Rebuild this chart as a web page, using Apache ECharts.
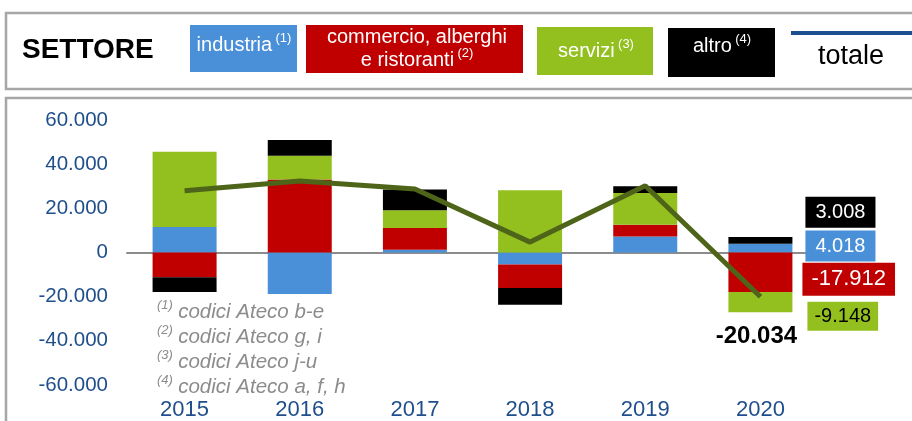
<!DOCTYPE html>
<html>
<head>
<meta charset="utf-8">
<script src="https://cdn.jsdelivr.net/npm/echarts@6/dist/echarts.min.js"></script>
<style>
  html, body { margin: 0; padding: 0; background: #fff; }
  #chart { width: 912px; height: 421px; }
</style>
</head>
<body>
<div id="chart"></div>
<script>
// dati
const anni = ['2015', '2016', '2017', '2018', '2019', '2020'];
const industria = [11600, -18800, 1300, -5400, 7200, 4018];
const commercio = [-11200, 33100, 9800, -10700, 5400, -17912];
const servizi = [34000, 10700, 8000, 28200, 14300, -9148];
const altro = [-6700, 7200, 9400, -7600, 3100, 3008];
const totale = [28000, 32400, 28800, 4700, 30200, -20034];
const note = ['(1)|codici Ateco b-e', '(2)|codici Ateco g, i', '(3)|codici Ateco j-u', '(4)|codici Ateco a, f, h'];

const FONT = 'Liberation Sans, Arial, sans-serif';
const BLU = '#4A90D9', ROSSO = '#C00000', VERDE = '#93C01F', NERO = '#000000';

function fmt(v) {
  const s = Math.abs(v).toString().replace(/\B(?=(\d{3})+(?!\d))/g, '.');
  return (v < 0 ? '-' : '') + s;
}

// etichetta a destra dell'ultimo anno
function conEtichetta(arr, lab) {
  return arr.map((v, i) => {
    if (i !== arr.length - 1) return v;
    return {
      value: v,
      label: Object.assign({
        show: true,
        position: 'right',
        fontFamily: FONT,
        fontSize: 20,
        lineHeight: 21,
        formatter: p => fmt(p.value)
      }, lab)
    };
  });
}

function barra(nome, dati, colore, lab) {
  return {
    name: nome,
    type: 'bar',
    stack: 'tot',
    barWidth: 64,
    itemStyle: { color: colore },
    data: conEtichetta(dati, lab)
  };
}

const chart = echarts.init(document.getElementById('chart'));

const sup = { fontSize: 13, fontFamily: FONT, padding: [0, 0, 14, 0] };

const legenda = [
  { type: 'rect', shape: { x: 6, y: 13, width: 930, height: 76 }, style: { fill: 'none', stroke: '#a6a6a6', lineWidth: 2.5 } },
  { type: 'rect', shape: { x: 6, y: 98, width: 930, height: 340 }, style: { fill: 'none', stroke: '#a6a6a6', lineWidth: 2.5 } },
  { type: 'text', x: 22, y: 50, style: { text: 'SETTORE', font: 'bold 28px ' + FONT, fill: '#000', verticalAlign: 'middle' } },
  { type: 'rect', shape: { x: 190, y: 25, width: 107, height: 47 }, style: { fill: BLU } },
  { type: 'text', x: 244, y: 45, style: { text: '{t|industria} {s|(1)}', fill: '#fff', align: 'center', verticalAlign: 'middle',
      rich: { t: { fontSize: 20, fontFamily: FONT, fill: '#fff' }, s: Object.assign({ fill: '#fff' }, sup) } } },
  { type: 'rect', shape: { x: 306, y: 25, width: 217, height: 48 }, style: { fill: ROSSO } },
  { type: 'text', x: 417, y: 37, style: { text: 'commercio, alberghi', font: '20px ' + FONT, fill: '#fff', align: 'center', verticalAlign: 'middle' } },
  { type: 'text', x: 417, y: 60, style: { text: '{t|e ristoranti} {s|(2)}', fill: '#fff', align: 'center', verticalAlign: 'middle',
      rich: { t: { fontSize: 20, fontFamily: FONT, fill: '#fff' }, s: Object.assign({ fill: '#fff' }, sup) } } },
  { type: 'rect', shape: { x: 537, y: 27, width: 116, height: 48 }, style: { fill: VERDE } },
  { type: 'text', x: 596, y: 51, style: { text: '{t|servizi} {s|(3)}', fill: '#fff', align: 'center', verticalAlign: 'middle',
      rich: { t: { fontSize: 20, fontFamily: FONT, fill: '#fff' }, s: Object.assign({ fill: '#fff' }, sup) } } },
  { type: 'rect', shape: { x: 668, y: 28, width: 107, height: 49 }, style: { fill: NERO } },
  { type: 'text', x: 722, y: 46, style: { text: '{t|altro} {s|(4)}', fill: '#fff', align: 'center', verticalAlign: 'middle',
      rich: { t: { fontSize: 20, fontFamily: FONT, fill: '#fff' }, s: Object.assign({ fill: '#fff' }, sup) } } },
  { type: 'line', shape: { x1: 791, y1: 33, x2: 912, y2: 33 }, style: { stroke: '#1B4F8F', lineWidth: 4 } },
  { type: 'text', x: 851, y: 57, style: { text: 'totale', font: '27px ' + FONT, fill: '#000', align: 'center', verticalAlign: 'middle' } }
];

note.forEach((n, i) => {
  const [num, testo] = n.split('|');
  legenda.push({
    type: 'text', x: 157, y: 312 + i * 25,
    style: {
      text: '{s|' + num + '} {t|' + testo + '}', verticalAlign: 'middle',
      rich: {
        t: { fontSize: 20.5, fontStyle: 'italic', fontFamily: FONT, fill: '#8c8c8c', padding: [0, 0, 0, 2] },
        s: Object.assign({ fill: '#8c8c8c', fontStyle: 'italic' }, sup)
      }
    }
  });
});

const option = {
  animation: false,
  grid: { left: 127, right: 94, top: 120, bottom: 33 },
  xAxis: {
    type: 'category',
    data: anni,
    axisTick: { show: false },
    axisLine: { lineStyle: { color: '#8c8c8c', width: 2 } },
    axisLabel: { color: '#1F4E8C', fontSize: 22, fontFamily: FONT, margin: 14 }
  },
  yAxis: {
    type: 'value',
    min: -60000,
    max: 60000,
    interval: 20000,
    axisLine: { show: false },
    axisTick: { show: false },
    splitLine: { show: false },
    axisLabel: { color: '#1F4E8C', fontSize: 20.5, fontFamily: FONT, margin: 19, formatter: v => fmt(v) }
  },
  series: [
    barra('industria', industria, BLU, { color: '#fff', backgroundColor: BLU, padding: [5, 10], distance: 13, offset: [0, -2] }),
    barra('commercio, alberghi e ristoranti', commercio, ROSSO, { color: '#fff', backgroundColor: ROSSO, fontSize: 22, lineHeight: 23, padding: [5, 9], distance: 10, offset: [0, 7] }),
    barra('servizi', servizi, VERDE, { color: '#000', backgroundColor: VERDE, padding: [4, 7], distance: 15, offset: [0, 14] }),
    barra('altro', altro, NERO, { color: '#fff', backgroundColor: NERO, padding: [5, 10], distance: 13, offset: [0, -28] }),
    {
      name: 'totale',
      type: 'line',
      z: 5,
      showSymbol: true,
      symbol: 'circle',
      symbolSize: 0,
      lineStyle: { color: '#4E6419', width: 5 },
      itemStyle: { color: '#4E6419' },
      data: totale.map((v, i) => i === totale.length - 1 ? {
        value: v,
        label: { show: true, position: 'bottom', offset: [-4, 23], color: '#000', fontWeight: 'bold', fontSize: 24, fontFamily: FONT, formatter: p => fmt(p.value) }
      } : v)
    }
  ],
  graphic: legenda
};

chart.setOption(option);
</script>
</body>
</html>
